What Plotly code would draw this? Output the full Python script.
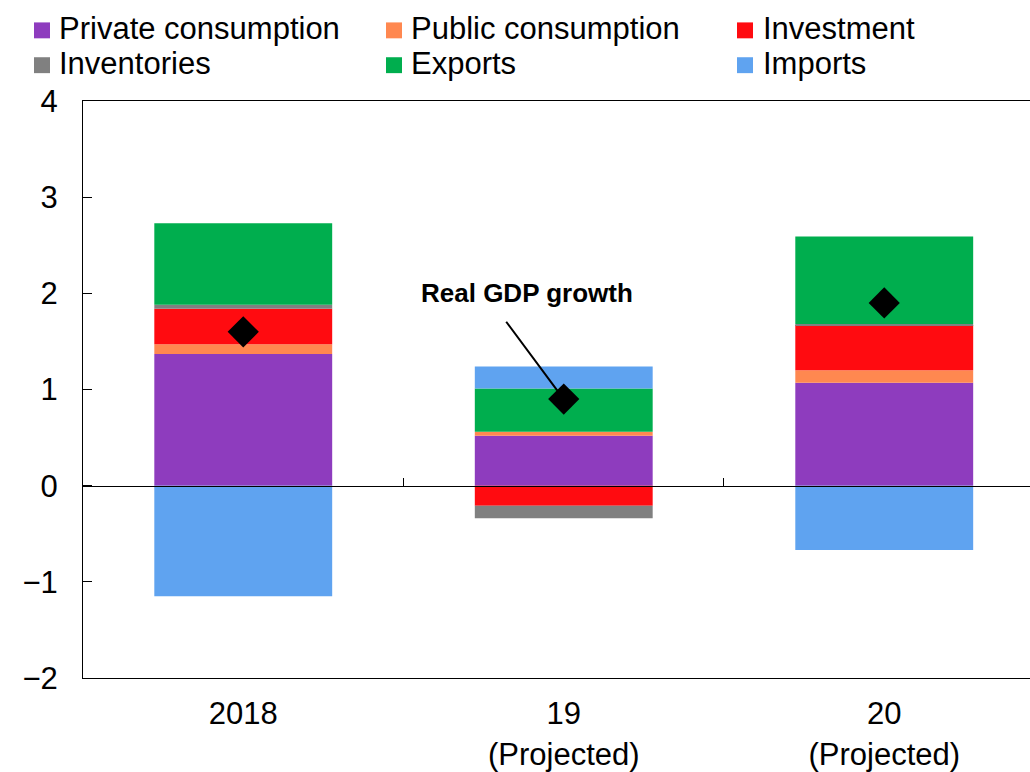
import plotly.graph_objects as go

# Contributions to real GDP growth (percentage points)
years = ["2018", "19<br>(Projected)", "20<br>(Projected)"]
private_consumption = [1.37, 0.52, 1.07]
public_consumption = [0.10, 0.04, 0.13]
investment = [0.37, -0.21, 0.47]
inventories = [0.04, -0.13, 0.01]
exports = [0.85, 0.45, 0.91]
imports = [-1.15, 0.23, -0.67]
real_gdp_growth = [1.6, 0.9, 1.9]

y_ticks = [-2, -1, 0, 1, 2, 3, 4]

components = [
    ("Private consumption", private_consumption, "#8E3CBE"),
    ("Public consumption", public_consumption, "#FF8850"),
    ("Investment", investment, "#FF0B10"),
    ("Inventories", inventories, "#808080"),
    ("Exports", exports, "#00AE4E"),
    ("Imports", imports, "#5FA3F0"),
]

FONT = "Liberation Sans, Arial, sans-serif"
W, H = 1030, 772
ML, MR, MT, MB = 83, 0, 101, 91
xpos = list(range(len(years)))


def px_x(px):
    """Pixel column -> paper x."""
    return (px - ML) / (W - ML - MR)


def px_y(py):
    """Pixel row -> paper y."""
    return (H - MB - py) / (H - MT - MB)


fig = go.Figure()
for name, vals, color in components:
    fig.add_trace(go.Bar(
        x=xpos, y=vals, name=name, width=0.555,
        marker=dict(color=color, line=dict(width=0)),
        showlegend=False,
    ))

# GDP growth diamonds on the overlay axis (drawn above the bars)
fig.add_trace(go.Scatter(
    x=xpos, y=real_gdp_growth, mode="markers", xaxis="x2",
    marker=dict(symbol="diamond", size=24, color="black"),
    showlegend=False, name="Real GDP growth",
))

xrange = [-0.5, 2.4548]

fig.update_layout(
    width=W, height=H,
    margin=dict(l=ML, r=MR, t=MT, b=MB),
    paper_bgcolor="white", plot_bgcolor="white",
    barmode="relative", showlegend=False,
    font=dict(family=FONT, size=31, color="black"),
    xaxis=dict(
        range=xrange, tickvals=xpos, ticktext=years,
        showline=True, linecolor="black", linewidth=1, mirror=True,
        ticks="", showgrid=False, zeroline=False,
        tickfont=dict(size=31), ticklabelstandoff=8,
    ),
    xaxis2=dict(
        range=xrange, overlaying="x", anchor="free", position=1/3,
        showline=True, linecolor="black", linewidth=1,
        ticks="inside", ticklen=8, tickcolor="black",
        tickvals=[0.5, 1.5], showticklabels=False,
        showgrid=False, zeroline=False,
    ),
    yaxis=dict(
        range=[-2, 4], tickvals=y_ticks,
        showline=True, linecolor="black", linewidth=1,
        ticks="inside", ticklen=9, tickcolor="black",
        showgrid=False, zeroline=False,
        tickfont=dict(size=31), ticklabelstandoff=18,
    ),
)

# Legend: three columns, two rows, square swatch + label
col_swatch = [42, 394, 745]
col_text = [57, 409, 761]
row_text = [28, 63]
row_swatch = [30, 65]
half = 8
for i, (name, _, color) in enumerate(components):
    r, c = divmod(i, 3)
    fig.add_shape(
        type="rect", xref="paper", yref="paper",
        x0=px_x(col_swatch[c] - half), x1=px_x(col_swatch[c] + half),
        y0=px_y(row_swatch[r] + half), y1=px_y(row_swatch[r] - half),
        fillcolor=color, line=dict(width=0),
    )
    fig.add_annotation(
        x=px_x(col_text[c]), y=px_y(row_text[r]), xref="paper", yref="paper",
        xanchor="left", yanchor="middle", text=name, showarrow=False,
        font=dict(size=31, family=FONT, color="black"),
    )

fig.add_annotation(
    x=0.885, y=2.0, xref="x", yref="y",
    text="<b>Real GDP growth</b>", showarrow=False,
    font=dict(size=26, family=FONT, color="black"),
)
fig.add_annotation(
    x=1, y=real_gdp_growth[1], xref="x", yref="y",
    ax=0.817, ay=1.72, axref="x", ayref="y",
    text="", showarrow=True, arrowhead=0, arrowwidth=2,
    arrowcolor="black", standoff=11,
)

fig.write_html("out.html")
